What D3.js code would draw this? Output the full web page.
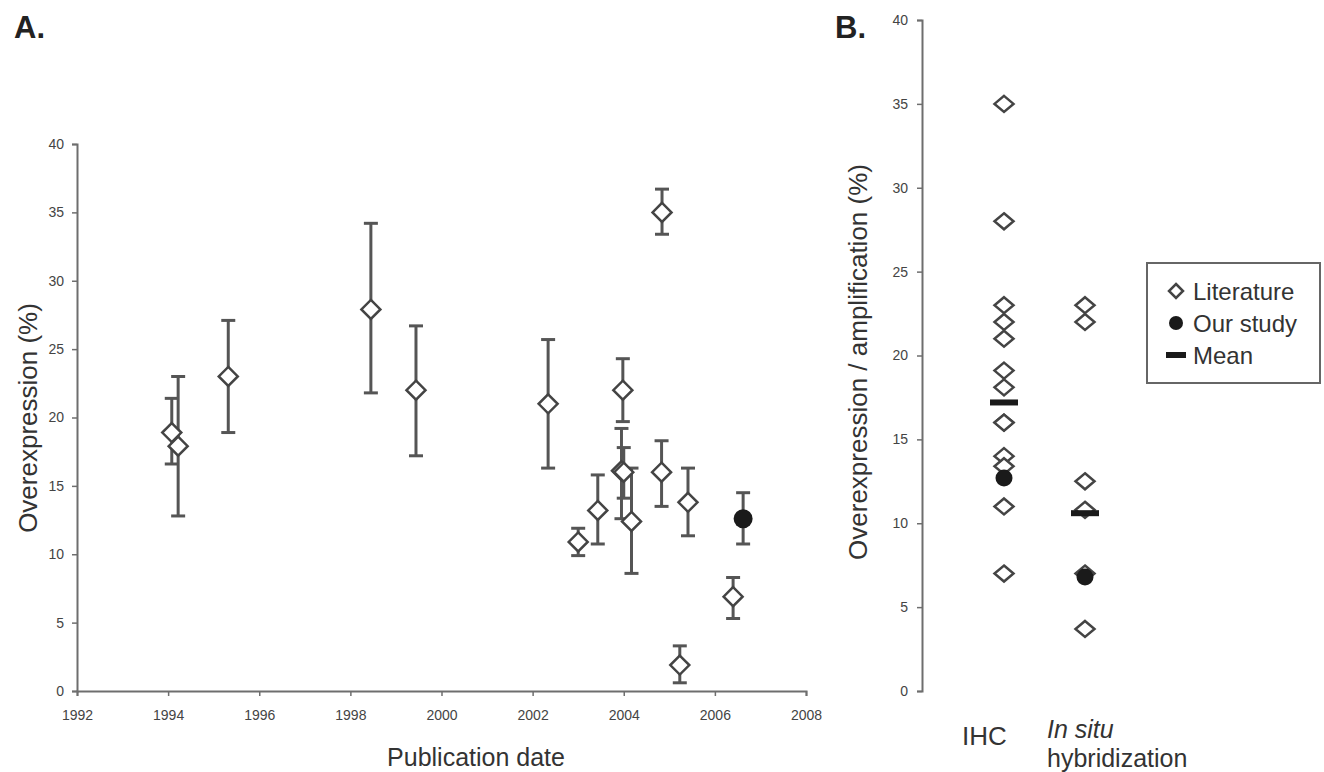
<!DOCTYPE html>
<html>
<head>
<meta charset="utf-8">
<script src="https://cdn.jsdelivr.net/npm/d3@7"></script>
<style>
  body { margin: 0; background: #fff; }
  svg { font-family: "Liberation Sans", Arial, sans-serif; }
</style>
</head>
<body>
<div id="chart"></div>
<script>
// ---- panel A data: literature studies by publication date ----
var litYear  = [1994.08, 1994.22, 1995.32, 1998.45, 1999.44, 2002.34, 2003.0, 2003.43, 2003.98, 2003.95, 2004.0, 2004.17, 2004.84, 2004.83, 2005.23, 2005.41, 2006.4];
var litValue = [18.9, 17.9, 23.0, 27.9, 22.0, 21.0, 10.9, 13.2, 22.0, 16.1, 16.0, 12.4, 35.0, 16.0, 1.9, 13.8, 6.9];
var litLow   = [16.6, 12.8, 18.9, 21.8, 17.2, 16.3, 9.9, 10.75, 19.7, 12.6, 14.1, 8.6, 33.4, 13.5, 0.6, 11.35, 5.3];
var litHigh  = [21.4, 23.0, 27.1, 34.2, 26.7, 25.7, 11.9, 15.8, 24.3, 19.2, 17.8, 16.3, 36.7, 18.3, 3.3, 16.3, 8.3];
var ourYear  = [2006.62];
var ourValue = [12.6];
var ourLow   = [10.75];
var ourHigh  = [14.5];
var yearTicks = [1992, 1994, 1996, 1998, 2000, 2002, 2004, 2006, 2008];
var pctTicks  = [0, 5, 10, 15, 20, 25, 30, 35, 40];

// ---- panel B data: by method ----
var methods   = ["IHC", "ISH"];
var ihcLit    = [35, 28, 23, 22, 21, 19.1, 18.1, 16, 16, 14, 13.4, 11, 7];
var ishLit    = [23, 22, 12.5, 10.8, 7, 3.7];
var ourByMethod  = [12.7, 6.8];
var meanByMethod = [17.2, 10.6];
var legendLabels = ["Literature", "Our study", "Mean"];

var W = 1324, H = 772;
var axisColor = "#6e6e6e", markColor = "#444", barColor = "#555";

var svg = d3.select("#chart").append("svg")
    .attr("width", W).attr("height", H);

// diamond path centred at 0,0
function diamond(hw, hh) {
  return "M0," + (-hh) + "L" + hw + ",0L0," + hh + "L" + (-hw) + ",0Z";
}

function styleAxis(g) {
  g.select(".domain").attr("stroke", axisColor).attr("stroke-width", 2);
  g.selectAll(".tick line").attr("stroke", axisColor).attr("stroke-width", 1.5);
  g.selectAll(".tick text").attr("fill", "#444").style("font-size", "14px")
    .style("font-family", "\"Liberation Sans\", Arial, sans-serif");
}

// ================= panel A =================
var x = d3.scaleLinear().domain([1992, 2008]).range([77, 806]);
var y = d3.scaleLinear().domain([0, 40]).range([691, 144]);

var axA = svg.append("g").attr("transform", "translate(0,691)")
    .call(d3.axisBottom(x).tickValues(yearTicks).tickFormat(d3.format("d")).tickSize(5).tickPadding(14));
var ayA = svg.append("g").attr("transform", "translate(77,0)")
    .call(d3.axisLeft(y).tickValues(pctTicks).tickSize(5).tickPadding(8));
styleAxis(axA);
styleAxis(ayA);

svg.append("text")
  .attr("x", 14).attr("y", 38)
  .style("font-size", "31px").style("font-weight", "bold").attr("fill", "#222")
  .text("A.");

svg.append("text")
  .attr("text-anchor", "middle")
  .attr("x", 476).attr("y", 766)
  .style("font-size", "25px").attr("fill", "#333")
  .text("Publication date");

svg.append("text")
  .attr("text-anchor", "middle")
  .attr("transform", "translate(37,418) rotate(-90)")
  .style("font-size", "26px").attr("fill", "#333")
  .text("Overexpression (%)");

var litA = litYear.map(function(d, i) {
  return {year: d, v: litValue[i], lo: litLow[i], hi: litHigh[i]};
});
var ourA = ourYear.map(function(d, i) {
  return {year: d, v: ourValue[i], lo: ourLow[i], hi: ourHigh[i]};
});

function errorBars(g, data) {
  var e = g.selectAll(null).data(data).enter().append("g")
    .attr("stroke", barColor).attr("stroke-width", 3);
  e.append("line")
    .attr("x1", function(d) { return x(d.year); })
    .attr("x2", function(d) { return x(d.year); })
    .attr("y1", function(d) { return y(d.lo); })
    .attr("y2", function(d) { return y(d.hi); });
  e.append("line")
    .attr("x1", function(d) { return x(d.year) - 7; })
    .attr("x2", function(d) { return x(d.year) + 7; })
    .attr("y1", function(d) { return y(d.hi); })
    .attr("y2", function(d) { return y(d.hi); });
  e.append("line")
    .attr("x1", function(d) { return x(d.year) - 7; })
    .attr("x2", function(d) { return x(d.year) + 7; })
    .attr("y1", function(d) { return y(d.lo); })
    .attr("y2", function(d) { return y(d.lo); });
}

var gA = svg.append("g");
errorBars(gA, litA);
errorBars(gA, ourA);

gA.selectAll(".litA").data(litA).enter().append("path")
  .attr("class", "litA")
  .attr("d", diamond(9.5, 9.5))
  .attr("transform", function(d) { return "translate(" + x(d.year) + "," + y(d.v) + ")"; })
  .attr("fill", "#fff").attr("stroke", markColor).attr("stroke-width", 2.5);

gA.selectAll(".ourA").data(ourA).enter().append("circle")
  .attr("class", "ourA")
  .attr("cx", function(d) { return x(d.year); })
  .attr("cy", function(d) { return y(d.v); })
  .attr("r", 9.5)
  .attr("fill", "#1a1a1a");

// ================= panel B =================
var xb = d3.scalePoint().domain(methods).range([1004, 1085]);
var yb = d3.scaleLinear().domain([0, 40]).range([691, 20]);

var ayB = svg.append("g").attr("transform", "translate(922,0)")
    .call(d3.axisLeft(yb).tickValues(pctTicks).tickSize(5).tickPadding(9));
styleAxis(ayB);

svg.append("text")
  .attr("x", 835).attr("y", 38)
  .style("font-size", "31px").style("font-weight", "bold").attr("fill", "#222")
  .text("B.");

svg.append("text")
  .attr("text-anchor", "middle")
  .attr("transform", "translate(867,362) rotate(-90)")
  .style("font-size", "26px").attr("fill", "#333")
  .text("Overexpression / amplification (%)");

svg.append("text")
  .attr("x", xb("IHC") - 42).attr("y", 745)
  .style("font-size", "26px").attr("fill", "#333")
  .text("IHC");
svg.append("text")
  .attr("x", xb("ISH") - 38).attr("y", 738)
  .style("font-size", "25px").style("font-style", "italic").attr("fill", "#333")
  .text("In situ");
svg.append("text")
  .attr("x", xb("ISH") - 38).attr("y", 767)
  .style("font-size", "25px").attr("fill", "#333")
  .text("hybridization");

var litB = ihcLit.map(function(v) { return {m: "IHC", v: v}; })
  .concat(ishLit.map(function(v) { return {m: "ISH", v: v}; }));

var gB = svg.append("g");
gB.selectAll(".litB").data(litB).enter().append("path")
  .attr("class", "litB")
  .attr("d", diamond(9.5, 8))
  .attr("transform", function(d) { return "translate(" + xb(d.m) + "," + yb(d.v) + ")"; })
  .attr("fill", "#fff").attr("stroke", markColor).attr("stroke-width", 2.5);

gB.selectAll(".ourB").data(ourByMethod).enter().append("circle")
  .attr("class", "ourB")
  .attr("cx", function(d, i) { return xb(methods[i]); })
  .attr("cy", function(d) { return yb(d); })
  .attr("r", 8.5)
  .attr("fill", "#1a1a1a");

gB.selectAll(".meanB").data(meanByMethod).enter().append("rect")
  .attr("class", "meanB")
  .attr("x", function(d, i) { return xb(methods[i]) - 14; })
  .attr("y", function(d) { return yb(d) - 3; })
  .attr("width", 28).attr("height", 6)
  .attr("fill", "#1a1a1a");

// legend
var lg = svg.append("g").attr("transform", "translate(1147,263)");
lg.append("rect")
  .attr("width", 173).attr("height", 120)
  .attr("fill", "#fff").attr("stroke", "#666").attr("stroke-width", 2);

var rows = lg.selectAll(".row").data(legendLabels).enter().append("g")
  .attr("class", "row")
  .attr("transform", function(d, i) { return "translate(0," + (28 + i * 32) + ")"; });

rows.append("text")
  .attr("x", 46).attr("y", 9)
  .style("font-size", "24px").attr("fill", "#333")
  .text(function(d) { return d; });

rows.filter(function(d, i) { return i === 0; }).append("path")
  .attr("d", diamond(7, 7)).attr("transform", "translate(29,0)")
  .attr("fill", "#fff").attr("stroke", markColor).attr("stroke-width", 2.5);
rows.filter(function(d, i) { return i === 1; }).append("circle")
  .attr("cx", 29).attr("r", 7).attr("fill", "#1a1a1a");
rows.filter(function(d, i) { return i === 2; }).append("rect")
  .attr("x", 19).attr("y", -3).attr("width", 20).attr("height", 6).attr("fill", "#1a1a1a");
</script>
</body>
</html>
